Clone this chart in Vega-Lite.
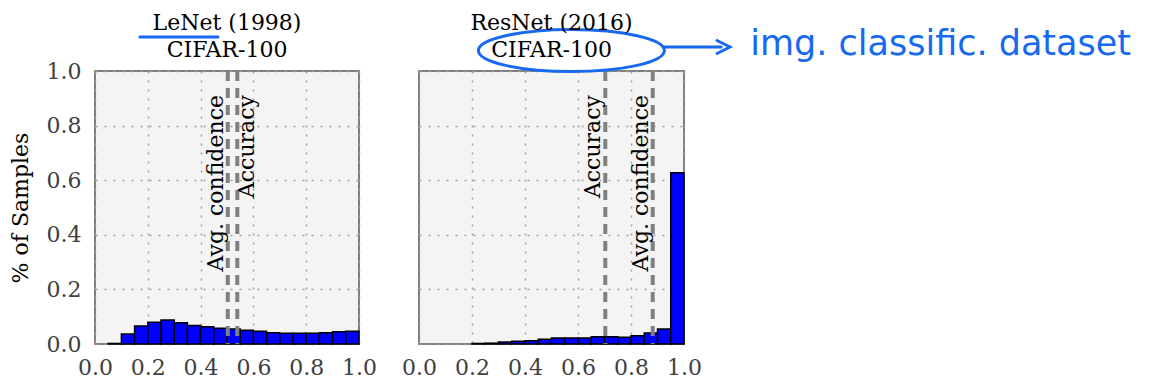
{
  "$schema": "https://vega.github.io/schema/vega-lite/v6.json",
  "padding": {"left": 8, "top": 10, "right": 5, "bottom": 5},
  "background": "white",
  "datasets": {
    "bars": [
      {"model": "LeNet", "bin_start": 0.05, "bin_end": 0.10, "frac": 0.002},
      {"model": "LeNet", "bin_start": 0.10, "bin_end": 0.15, "frac": 0.037},
      {"model": "LeNet", "bin_start": 0.15, "bin_end": 0.20, "frac": 0.066},
      {"model": "LeNet", "bin_start": 0.20, "bin_end": 0.25, "frac": 0.080},
      {"model": "LeNet", "bin_start": 0.25, "bin_end": 0.30, "frac": 0.088},
      {"model": "LeNet", "bin_start": 0.30, "bin_end": 0.35, "frac": 0.078},
      {"model": "LeNet", "bin_start": 0.35, "bin_end": 0.40, "frac": 0.068},
      {"model": "LeNet", "bin_start": 0.40, "bin_end": 0.45, "frac": 0.063},
      {"model": "LeNet", "bin_start": 0.45, "bin_end": 0.50, "frac": 0.058},
      {"model": "LeNet", "bin_start": 0.50, "bin_end": 0.55, "frac": 0.055},
      {"model": "LeNet", "bin_start": 0.55, "bin_end": 0.60, "frac": 0.050},
      {"model": "LeNet", "bin_start": 0.60, "bin_end": 0.65, "frac": 0.047},
      {"model": "LeNet", "bin_start": 0.65, "bin_end": 0.70, "frac": 0.041},
      {"model": "LeNet", "bin_start": 0.70, "bin_end": 0.75, "frac": 0.039},
      {"model": "LeNet", "bin_start": 0.75, "bin_end": 0.80, "frac": 0.039},
      {"model": "LeNet", "bin_start": 0.80, "bin_end": 0.85, "frac": 0.039},
      {"model": "LeNet", "bin_start": 0.85, "bin_end": 0.90, "frac": 0.041},
      {"model": "LeNet", "bin_start": 0.90, "bin_end": 0.95, "frac": 0.045},
      {"model": "LeNet", "bin_start": 0.95, "bin_end": 1.00, "frac": 0.047},
      {"model": "ResNet", "bin_start": 0.20, "bin_end": 0.25, "frac": 0.002},
      {"model": "ResNet", "bin_start": 0.25, "bin_end": 0.30, "frac": 0.003},
      {"model": "ResNet", "bin_start": 0.30, "bin_end": 0.35, "frac": 0.007},
      {"model": "ResNet", "bin_start": 0.35, "bin_end": 0.40, "frac": 0.010},
      {"model": "ResNet", "bin_start": 0.40, "bin_end": 0.45, "frac": 0.012},
      {"model": "ResNet", "bin_start": 0.45, "bin_end": 0.50, "frac": 0.017},
      {"model": "ResNet", "bin_start": 0.50, "bin_end": 0.55, "frac": 0.022},
      {"model": "ResNet", "bin_start": 0.55, "bin_end": 0.60, "frac": 0.022},
      {"model": "ResNet", "bin_start": 0.60, "bin_end": 0.65, "frac": 0.022},
      {"model": "ResNet", "bin_start": 0.65, "bin_end": 0.70, "frac": 0.027},
      {"model": "ResNet", "bin_start": 0.70, "bin_end": 0.75, "frac": 0.027},
      {"model": "ResNet", "bin_start": 0.75, "bin_end": 0.80, "frac": 0.025},
      {"model": "ResNet", "bin_start": 0.80, "bin_end": 0.85, "frac": 0.030},
      {"model": "ResNet", "bin_start": 0.85, "bin_end": 0.90, "frac": 0.040},
      {"model": "ResNet", "bin_start": 0.90, "bin_end": 0.95, "frac": 0.055},
      {"model": "ResNet", "bin_start": 0.95, "bin_end": 1.00, "frac": 0.627}
    ],
    "lines": [
      {"model": "LeNet", "name": "Avg. confidence", "value": 0.503, "ty": 0.912, "side": "left"},
      {"model": "LeNet", "name": "Accuracy", "value": 0.539, "ty": 0.912, "side": "right"},
      {"model": "ResNet", "name": "Accuracy", "value": 0.703, "ty": 0.912, "side": "left"},
      {"model": "ResNet", "name": "Avg. confidence", "value": 0.882, "ty": 0.912, "side": "left"}
    ],
    "notes": [
      {"model": "LeNet", "kind": "underline", "x": 0.17, "x2": 0.466, "y": 1.125},
      {"model": "ResNet", "kind": "ellipse", "x": 0.575, "y": 1.075},
      {"model": "ResNet", "kind": "arrow", "x": 0.925, "x2": 1.14, "y": 1.088},
      {"model": "ResNet", "kind": "head", "x": 1.147, "y": 1.088},
      {"model": "ResNet", "kind": "text", "x": 1.25, "y": 1.06, "label": "img. classific. dataset"}
    ]
  },
  "config": {
    "font": "DejaVu Serif",
    "view": {"fill": "#f4f4f4", "stroke": "#808080", "strokeWidth": 2},
    "axis": {
      "domain": false, "ticks": false, "grid": true,
      "gridColor": "#a0a0a0", "gridDash": [2, 7], "gridWidth": 1.5,
      "labelFont": "DejaVu Serif", "labelFontSize": 22, "labelColor": "#404040",
      "labelFlush": false, "labelOverlap": false,
      "titleFont": "DejaVu Serif", "titleFontSize": 22, "titleFontWeight": "normal", "titleColor": "black"
    },
    "axisX": {"labelPadding": 13, "values": [0, 0.2, 0.4, 0.6, 0.8, 1.0], "format": ".1f"},
    "axisY": {"labelPadding": 14, "titlePadding": 14, "values": [0, 0.2, 0.4, 0.6, 0.8, 1.0], "format": ".1f"},
    "title": {"font": "DejaVu Serif", "fontSize": 22, "fontWeight": "normal", "color": "black", "lineHeight": 27}
  },
  "spacing": 60,
  "bounds": "flush",
  "hconcat": [
    {
      "width": 264, "height": 273,
      "title": {"text": ["LeNet (1998)", "CIFAR-100"], "offset": -26.6},
      "layer": [
        {
          "data": {"name": "bars"},
          "transform": [{"filter": "datum.model === 'LeNet'"}],
          "mark": {"type": "bar", "fill": "#0000ff", "stroke": "black", "strokeWidth": 1.5},
          "encoding": {
            "x": {"field": "bin_start", "type": "quantitative", "title": null, "scale": {"domain": [0, 1], "nice": false}},
            "x2": {"field": "bin_end"},
            "y": {"field": "frac", "type": "quantitative", "title": "% of Samples", "scale": {"domain": [0, 1], "nice": false}},
            "y2": {"datum": 0}
          }
        },
        {
          "data": {"name": "lines"},
          "transform": [{"filter": "datum.model === 'LeNet'"}],
          "mark": {"type": "rule", "stroke": "#808080", "strokeWidth": 4, "strokeDash": [10, 7]},
          "encoding": {
            "x": {"field": "value", "type": "quantitative", "title": null, "scale": {"domain": [0, 1], "nice": false}}
          }
        },
        {
          "data": {"name": "lines"},
          "transform": [{"filter": "datum.model === 'LeNet' && datum.side === 'left'"}],
          "mark": {"type": "text", "angle": 270, "align": "right", "baseline": "bottom", "fontSize": 22, "font": "DejaVu Serif", "color": "black"},
          "encoding": {
            "x": {"field": "value", "type": "quantitative", "title": null, "scale": {"domain": [0, 1], "nice": false}},
            "y": {"field": "ty", "type": "quantitative", "title": "% of Samples", "scale": {"domain": [0, 1], "nice": false}},
            "text": {"field": "name"}
          }
        },
        {
          "data": {"name": "lines"},
          "transform": [{"filter": "datum.model === 'LeNet' && datum.side === 'right'"}],
          "mark": {"type": "text", "angle": 270, "align": "right", "baseline": "top", "fontSize": 22, "font": "DejaVu Serif", "color": "black"},
          "encoding": {
            "x": {"field": "value", "type": "quantitative", "title": null, "scale": {"domain": [0, 1], "nice": false}},
            "y": {"field": "ty", "type": "quantitative", "title": "% of Samples", "scale": {"domain": [0, 1], "nice": false}},
            "text": {"field": "name"}
          }
        },
        {
          "data": {"name": "notes"},
          "transform": [{"filter": "datum.model === 'LeNet' && datum.kind === 'underline'"}],
          "mark": {"type": "rule", "stroke": "#1769f0", "strokeWidth": 3, "strokeCap": "round"},
          "encoding": {
            "x": {"field": "x", "type": "quantitative", "title": null, "scale": {"domain": [0, 1], "nice": false}},
            "x2": {"field": "x2"},
            "y": {"field": "y", "type": "quantitative", "title": "% of Samples", "scale": {"domain": [0, 1], "nice": false}}
          }
        }
      ]
    },
    {
      "width": 265, "height": 273,
      "title": {"text": ["ResNet (2016)", "CIFAR-100"], "offset": -38.4},
      "layer": [
        {
          "data": {"name": "bars"},
          "transform": [{"filter": "datum.model === 'ResNet'"}],
          "mark": {"type": "bar", "fill": "#0000ff", "stroke": "black", "strokeWidth": 1.5},
          "encoding": {
            "x": {"field": "bin_start", "type": "quantitative", "title": null, "scale": {"domain": [0, 1], "nice": false}},
            "x2": {"field": "bin_end"},
            "y": {"field": "frac", "type": "quantitative", "title": null, "scale": {"domain": [0, 1], "nice": false}, "axis": {"labels": false}},
            "y2": {"datum": 0}
          }
        },
        {
          "data": {"name": "lines"},
          "transform": [{"filter": "datum.model === 'ResNet'"}],
          "mark": {"type": "rule", "stroke": "#808080", "strokeWidth": 4, "strokeDash": [10, 7]},
          "encoding": {
            "x": {"field": "value", "type": "quantitative", "title": null, "scale": {"domain": [0, 1], "nice": false}}
          }
        },
        {
          "data": {"name": "lines"},
          "transform": [{"filter": "datum.model === 'ResNet'"}],
          "mark": {"type": "text", "angle": 270, "align": "right", "baseline": "bottom", "fontSize": 22, "font": "DejaVu Serif", "color": "black"},
          "encoding": {
            "x": {"field": "value", "type": "quantitative", "title": null, "scale": {"domain": [0, 1], "nice": false}},
            "y": {"field": "ty", "type": "quantitative", "title": null, "scale": {"domain": [0, 1], "nice": false}, "axis": {"labels": false}},
            "text": {"field": "name"}
          }
        },
        {
          "data": {"name": "notes"},
          "transform": [{"filter": "datum.kind === 'ellipse'"}],
          "mark": {"type": "point", "shape": "M -1 0 A 1 0.226 0 1 1 1 0 A 1 0.226 0 1 1 -1 0", "size": 34596, "filled": false, "stroke": "#1769f0", "strokeWidth": 3, "opacity": 1},
          "encoding": {
            "x": {"field": "x", "type": "quantitative", "title": null, "scale": {"domain": [0, 1], "nice": false}},
            "y": {"field": "y", "type": "quantitative", "title": null, "scale": {"domain": [0, 1], "nice": false}, "axis": {"labels": false}}
          }
        },
        {
          "data": {"name": "notes"},
          "transform": [{"filter": "datum.kind === 'arrow'"}],
          "mark": {"type": "rule", "stroke": "#1769f0", "strokeWidth": 3, "strokeCap": "round"},
          "encoding": {
            "x": {"field": "x", "type": "quantitative", "title": null, "scale": {"domain": [0, 1], "nice": false}},
            "x2": {"field": "x2"},
            "y": {"field": "y", "type": "quantitative", "title": null, "scale": {"domain": [0, 1], "nice": false}, "axis": {"labels": false}}
          }
        },
        {
          "data": {"name": "notes"},
          "transform": [{"filter": "datum.kind === 'head'"}],
          "mark": {"type": "point", "shape": "M -1 -1 L 1 0 L -1 1", "size": 196, "filled": false, "stroke": "#1769f0", "strokeWidth": 3, "opacity": 1},
          "encoding": {
            "x": {"field": "x", "type": "quantitative", "title": null, "scale": {"domain": [0, 1], "nice": false}},
            "y": {"field": "y", "type": "quantitative", "title": null, "scale": {"domain": [0, 1], "nice": false}, "axis": {"labels": false}}
          }
        },
        {
          "data": {"name": "notes"},
          "transform": [{"filter": "datum.kind === 'text'"}],
          "mark": {"type": "text", "align": "left", "baseline": "alphabetic", "fontSize": 35, "font": "DejaVu Sans", "color": "#1769f0"},
          "encoding": {
            "x": {"field": "x", "type": "quantitative", "title": null, "scale": {"domain": [0, 1], "nice": false}},
            "y": {"field": "y", "type": "quantitative", "title": null, "scale": {"domain": [0, 1], "nice": false}, "axis": {"labels": false}},
            "text": {"field": "label"}
          }
        }
      ]
    }
  ]
}
